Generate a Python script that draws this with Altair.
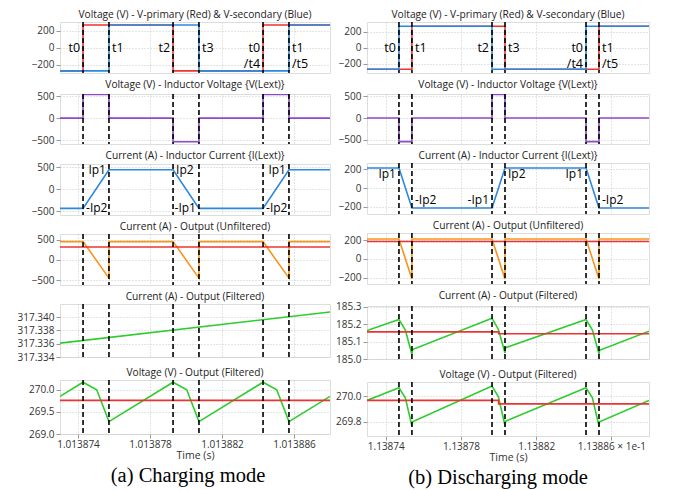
import altair as alt
import pandas as pd

FONT = "Open Sans"

# ---------------- data (time in microseconds from the left edge of the x axis) -------------
x_ticks = [1, 5, 9, 13]
x0_a = 1.013873          # s, left edge of panel (a)
x0_b = 1.13873           # x 1e-1 s, left edge of panel (b)

ev_a = [1.28, 2.72, 6.28, 7.72, 11.28, 12.72]
ev_b = [1.70, 2.39, 6.65, 7.34, 11.65, 12.34]

# (a) Charging mode
a_vp_t = [0, 1.28, 1.28, 6.28, 6.28, 11.28, 11.28, 15]
a_vp_v = [-270, -270, 270, 270, -270, -270, 270, 270]
a_vs_t = [0, 2.72, 2.72, 7.72, 7.72, 12.72, 12.72, 15]
a_vs_v = [-270, -270, 270, 270, -270, -270, 270, 270]
a_vl_t = [0, 1.28, 1.28, 2.72, 2.72, 6.28, 6.28, 7.72, 7.72, 11.28, 11.28, 12.72, 12.72, 15]
a_vl_v = [0, 0, 540, 540, 0, 0, -540, -540, 0, 0, 540, 540, 0, 0]
a_il_t = [0, 1.28, 2.72, 6.28, 7.72, 11.28, 12.72, 15]
a_il_v = [-440, -440, 440, 440, -440, -440, 440, 440]
a_io_t = [0, 1.28, 2.72, 2.72, 6.28, 7.72, 7.72, 11.28, 12.72, 12.72, 15]
a_io_v = [450, 450, -450, 450, 450, -450, 450, 450, -450, 450, 450]
a_iomean_t = [0, 15]
a_iomean_v = [317.3, 317.3]
a_if_t = [0, 15]
a_if_v = [317.3361, 317.3408]
a_vo_t = [0, 1.28, 2.04, 2.72, 6.28, 7.04, 7.72, 11.28, 12.04, 12.72, 15]
a_vo_v = [269.85, 270.17, 270.0, 269.28, 270.17, 270.0, 269.28, 270.17, 270.0, 269.28, 269.85]
a_vomean_t = [0, 15]
a_vomean_v = [269.76, 269.76]

# (b) Discharging mode
b_vp_t = [0, 2.39, 2.39, 7.34, 7.34, 12.34, 12.34, 15]
b_vp_v = [-272, -272, 272, 272, -272, -272, 272, 272]
b_vs_t = [0, 1.70, 1.70, 6.65, 6.65, 11.65, 11.65, 15]
b_vs_v = [-272, -272, 272, 272, -272, -272, 272, 272]
b_vl_t = [0, 1.70, 1.70, 2.39, 2.39, 6.65, 6.65, 7.34, 7.34, 11.65, 11.65, 12.34, 12.34, 15]
b_vl_v = [0, 0, -540, -540, 0, 0, 540, 540, 0, 0, -540, -540, 0, 0]
b_il_t = [0, 1.70, 2.39, 6.65, 7.34, 11.65, 12.34, 15]
b_il_v = [212, 212, -212, -212, 212, 212, -212, -212]
b_io_t = [0, 1.70, 2.39, 2.39, 6.65, 7.34, 7.34, 11.65, 12.34, 12.34, 15]
b_io_v = [212, 212, -212, 212, 212, -212, 212, 212, -212, 212, 212]
b_iomean_t = [0, 15]
b_iomean_v = [185.15, 185.15]
b_if_t = [0, 1.70, 2.04, 2.39, 2.42, 6.65, 6.99, 7.34, 7.37, 11.65, 11.99, 12.34, 12.37, 15]
b_if_v = [185.164, 185.227, 185.166, 185.026, 185.054, 185.234, 185.170, 185.035, 185.065,
          185.227, 185.166, 185.030, 185.050, 185.160]
b_ifmean_t = [0, 7.0, 7.0, 15]
b_ifmean_v = [185.156, 185.156, 185.145, 185.145]
b_vo_t = [0, 1.70, 2.04, 2.39, 2.42, 6.65, 6.99, 7.34, 7.37, 11.65, 11.99, 12.34, 12.37, 15]
b_vo_v = [269.967, 270.065, 269.987, 269.767, 269.800, 270.078, 269.995, 269.772, 269.805,
          270.065, 269.987, 269.767, 269.800, 269.967]
b_vomean_t = [0, 7.0, 7.0, 15]
b_vomean_v = [269.967, 269.967, 269.940, 269.940]

# annotation labels: (time, value, text, side)  side: L = left of the line, R = right
a_tlab = [(1.28, 0, "t0", "L"), (2.72, 0, "t1", "R"), (6.28, 0, "t2", "L"), (7.72, 0, "t3", "R"),
          (11.28, 0, "t0", "L"), (11.28, -185, "/t4", "L"), (12.72, 0, "t1", "R"), (12.72, -185, "/t5", "R")]
b_tlab = [(1.70, 0, "t0", "L"), (2.39, 0, "t1", "R"), (6.65, 0, "t2", "L"), (7.34, 0, "t3", "R"),
          (11.65, 0, "t0", "L"), (11.65, -210, "/t4", "L"), (12.34, 0, "t1", "R"), (12.34, -210, "/t5", "R")]
a_ilab = [(2.72, 440, "Ip1", "L"), (1.28, -440, "-Ip2", "R"), (6.28, 440, "Ip2", "R"),
          (7.72, -440, "-Ip1", "L"), (12.72, 440, "Ip1", "L"), (11.28, -440, "-Ip2", "R")]
b_ilab = [(1.70, 150, "Ip1", "L"), (2.39, -123, "-Ip2", "R"), (6.65, -123, "-Ip1", "L"),
          (7.34, 150, "Ip2", "R"), (11.65, 150, "Ip1", "L"), (12.34, -123, "-Ip2", "R")]

titles = ["Voltage (V) - V-primary (Red) & V-secondary (Blue)",
          "Voltage (V) - Inductor Voltage {V(Lext)}",
          "Current (A) - Inductor Current {I(Lext)}",
          "Current (A) - Output (Unfiltered)",
          "Current (A) - Output (Filtered)",
          "Voltage (V) - Output (Filtered)"]
captions = ["(a) Charging mode", "(b) Discharging mode"]

RED, BLUE, PURPLE, ORANGE, GREEN = "#ee3333", "#2b88e0", "#8e48c8", "#f7941d", "#2ecc2e"

heights = [51, 50, 51, 51, 53, 54]

# ---------------- helpers ----------------
def df(t, v):
    return pd.DataFrame({"t": t, "v": v})


def panel(title, series, ydom, yticks, yfmt, events, labels, fsize, w, h, bottom, xlabel_expr,
          yext, caption=None, cap_dx=0):
    if bottom:
        xaxis = alt.Axis(values=x_ticks, labelExpr=xlabel_expr, title="Time (s)", grid=True,
                         gridDash=[1, 2], gridColor="#c8c8c8", domain=False, ticks=True,
                         tickSize=4, tickColor="#999999", labelFontSize=10, labelFont=FONT,
                         labelColor="#333333", titleFont=FONT, titleFontSize=10.5,
                         titleFontWeight="normal", titleColor="#333333", labelPadding=1,
                         titlePadding=1)
    else:
        xaxis = alt.Axis(values=x_ticks, grid=True, gridDash=[1, 2], gridColor="#c8c8c8",
                         labels=False, ticks=False, domain=False, title=None)
    x = alt.X("t:Q", scale=alt.Scale(domain=[0, 15], nice=False, zero=False), axis=xaxis)
    y = alt.Y("v:Q", scale=alt.Scale(domain=ydom, nice=False, zero=False),
              axis=alt.Axis(values=yticks, format=yfmt, title=None, grid=True, gridDash=[1, 2],
                            gridColor="#c8c8c8", domain=False, tickSize=4, tickColor="#999999",
                            labelFont=FONT, labelFontSize=10, labelColor="#333333",
                            labelPadding=2, minExtent=yext, maxExtent=yext))
    layers = []
    for d, col in series:
        layers.append(alt.Chart(d).mark_line(color=col, strokeWidth=1.6, clip=True)
                      .encode(x=x, y=y))
    layers.append(alt.Chart(pd.DataFrame({"t": events})).mark_rule(
        color="black", strokeDash=[5, 3], strokeWidth=1.6).encode(x=x))
    if labels:
        ldf = pd.DataFrame(labels, columns=["t", "v", "txt", "side"])
        layers.append(alt.Chart(ldf[ldf.side == "L"]).mark_text(
            align="right", baseline="middle", dx=-3, font=FONT, fontSize=fsize, color="black")
            .encode(x=x, y=y, text="txt:N"))
        layers.append(alt.Chart(ldf[ldf.side == "R"]).mark_text(
            align="left", baseline="middle", dx=3, font=FONT, fontSize=fsize, color="black")
            .encode(x=x, y=y, text="txt:N"))
    if caption:
        layers.append(alt.Chart(pd.DataFrame({"cap": [caption]})).mark_text(
            align="center", baseline="middle", font="Liberation Serif", fontSize=20.5,
            color="black").encode(x=alt.value(w / 2 + cap_dx), y=alt.value(h + 42),
                                  text="cap:N"))
    return alt.layer(*layers).properties(
        width=w, height=h,
        title=alt.TitleParams(title, font=FONT, fontSize=10.2, fontWeight="normal",
                              color="#222222", offset=1))


pad = "\u2007" * 5 + "\u00a0"
xl_a = "format(%s + datum.value * 1e-6, '.6f')" % x0_a
xl_b = ("datum.value == 13 ? '%s' + format(%s + datum.value * 1e-5, '.5f') + ' \u00d7 1e-1' "
        ": format(%s + datum.value * 1e-5, '.5f')" % (pad, x0_b, x0_b))

WA, WB = 270, 282
YA, YB = 51, 30

col_a = alt.vconcat(
    panel(titles[0], [(df(a_vp_t, a_vp_v), RED), (df(a_vs_t, a_vs_v), BLUE)], [-295, 305],
          [-200, 0, 200], "d", ev_a, a_tlab, 12.5, WA, heights[0], False, xl_a, YA),
    panel(titles[1], [(df(a_vl_t, a_vl_v), PURPLE)], [-590, 550], [-500, 0, 500], "d",
          ev_a, None, 12, WA, heights[1], False, xl_a, YA),
    panel(titles[2], [(df(a_il_t, a_il_v), BLUE)], [-590, 570], [-500, 0, 500], "d",
          ev_a, a_ilab, 12, WA, heights[2], False, xl_a, YA),
    panel(titles[3], [(df(a_io_t, a_io_v), ORANGE), (df(a_iomean_t, a_iomean_v), RED)],
          [-620, 637], [-500, 0, 500], "d", ev_a, None, 12, WA, heights[3], False, xl_a, YA),
    panel(titles[4], [(df(a_if_t, a_if_v), GREEN)], [317.334, 317.342],
          [317.334, 317.336, 317.338, 317.340], ".3f", ev_a, None, 12, WA, heights[4], False, xl_a, YA),
    panel(titles[5], [(df(a_vo_t, a_vo_v), GREEN), (df(a_vomean_t, a_vomean_v), RED)],
          [269.0, 270.22], [269.0, 269.5, 270.0], ".1f", ev_a, None, 12, WA, heights[5], True, xl_a, YA,
          captions[0], -7),
    spacing=4,
)

col_b = alt.vconcat(
    panel(titles[0], [(df(b_vp_t, b_vp_v), RED), (df(b_vs_t, b_vs_v), BLUE)], [-320, 325],
          [-200, 0, 200], "d", ev_b, b_tlab, 12.5, WB, heights[0], False, xl_b, YB),
    panel(titles[1], [(df(b_vl_t, b_vl_v), PURPLE)], [-595, 550], [-500, 0, 500], "d",
          ev_b, None, 12, WB, heights[1], False, xl_b, YB),
    panel(titles[2], [(df(b_il_t, b_il_v), BLUE)], [-275, 265], [-200, 0, 200], "d",
          ev_b, b_ilab, 12, WB, heights[2], False, xl_b, YB),
    panel(titles[3], [(df(b_io_t, b_io_v), ORANGE), (df(b_iomean_t, b_iomean_v), RED)],
          [-266, 276], [-200, 0, 200], "d", ev_b, None, 12, WB, heights[3], False, xl_b, YB),
    panel(titles[4], [(df(b_if_t, b_if_v), GREEN), (df(b_ifmean_t, b_ifmean_v), RED)],
          [185.0, 185.305], [185.0, 185.1, 185.2, 185.3], ".1f", ev_b, None, 12, WB, heights[4],
          False, xl_b, YB),
    panel(titles[5], [(df(b_vo_t, b_vo_v), GREEN), (df(b_vomean_t, b_vomean_v), RED)],
          [269.69, 270.11], [269.8, 270.0], ".1f", ev_b, None, 12, WB, heights[5], True, xl_b, YB,
          captions[1], -10),
    spacing=4,
)

chart = alt.hconcat(col_a, col_b, spacing=4).properties(
    padding={"left": 0, "top": 1, "right": 0, "bottom": 0}
).configure_view(stroke="#c4c4c4", strokeWidth=1).configure(background="white")

chart.save("out.html", embed_options={"renderer": "svg", "actions": False})
